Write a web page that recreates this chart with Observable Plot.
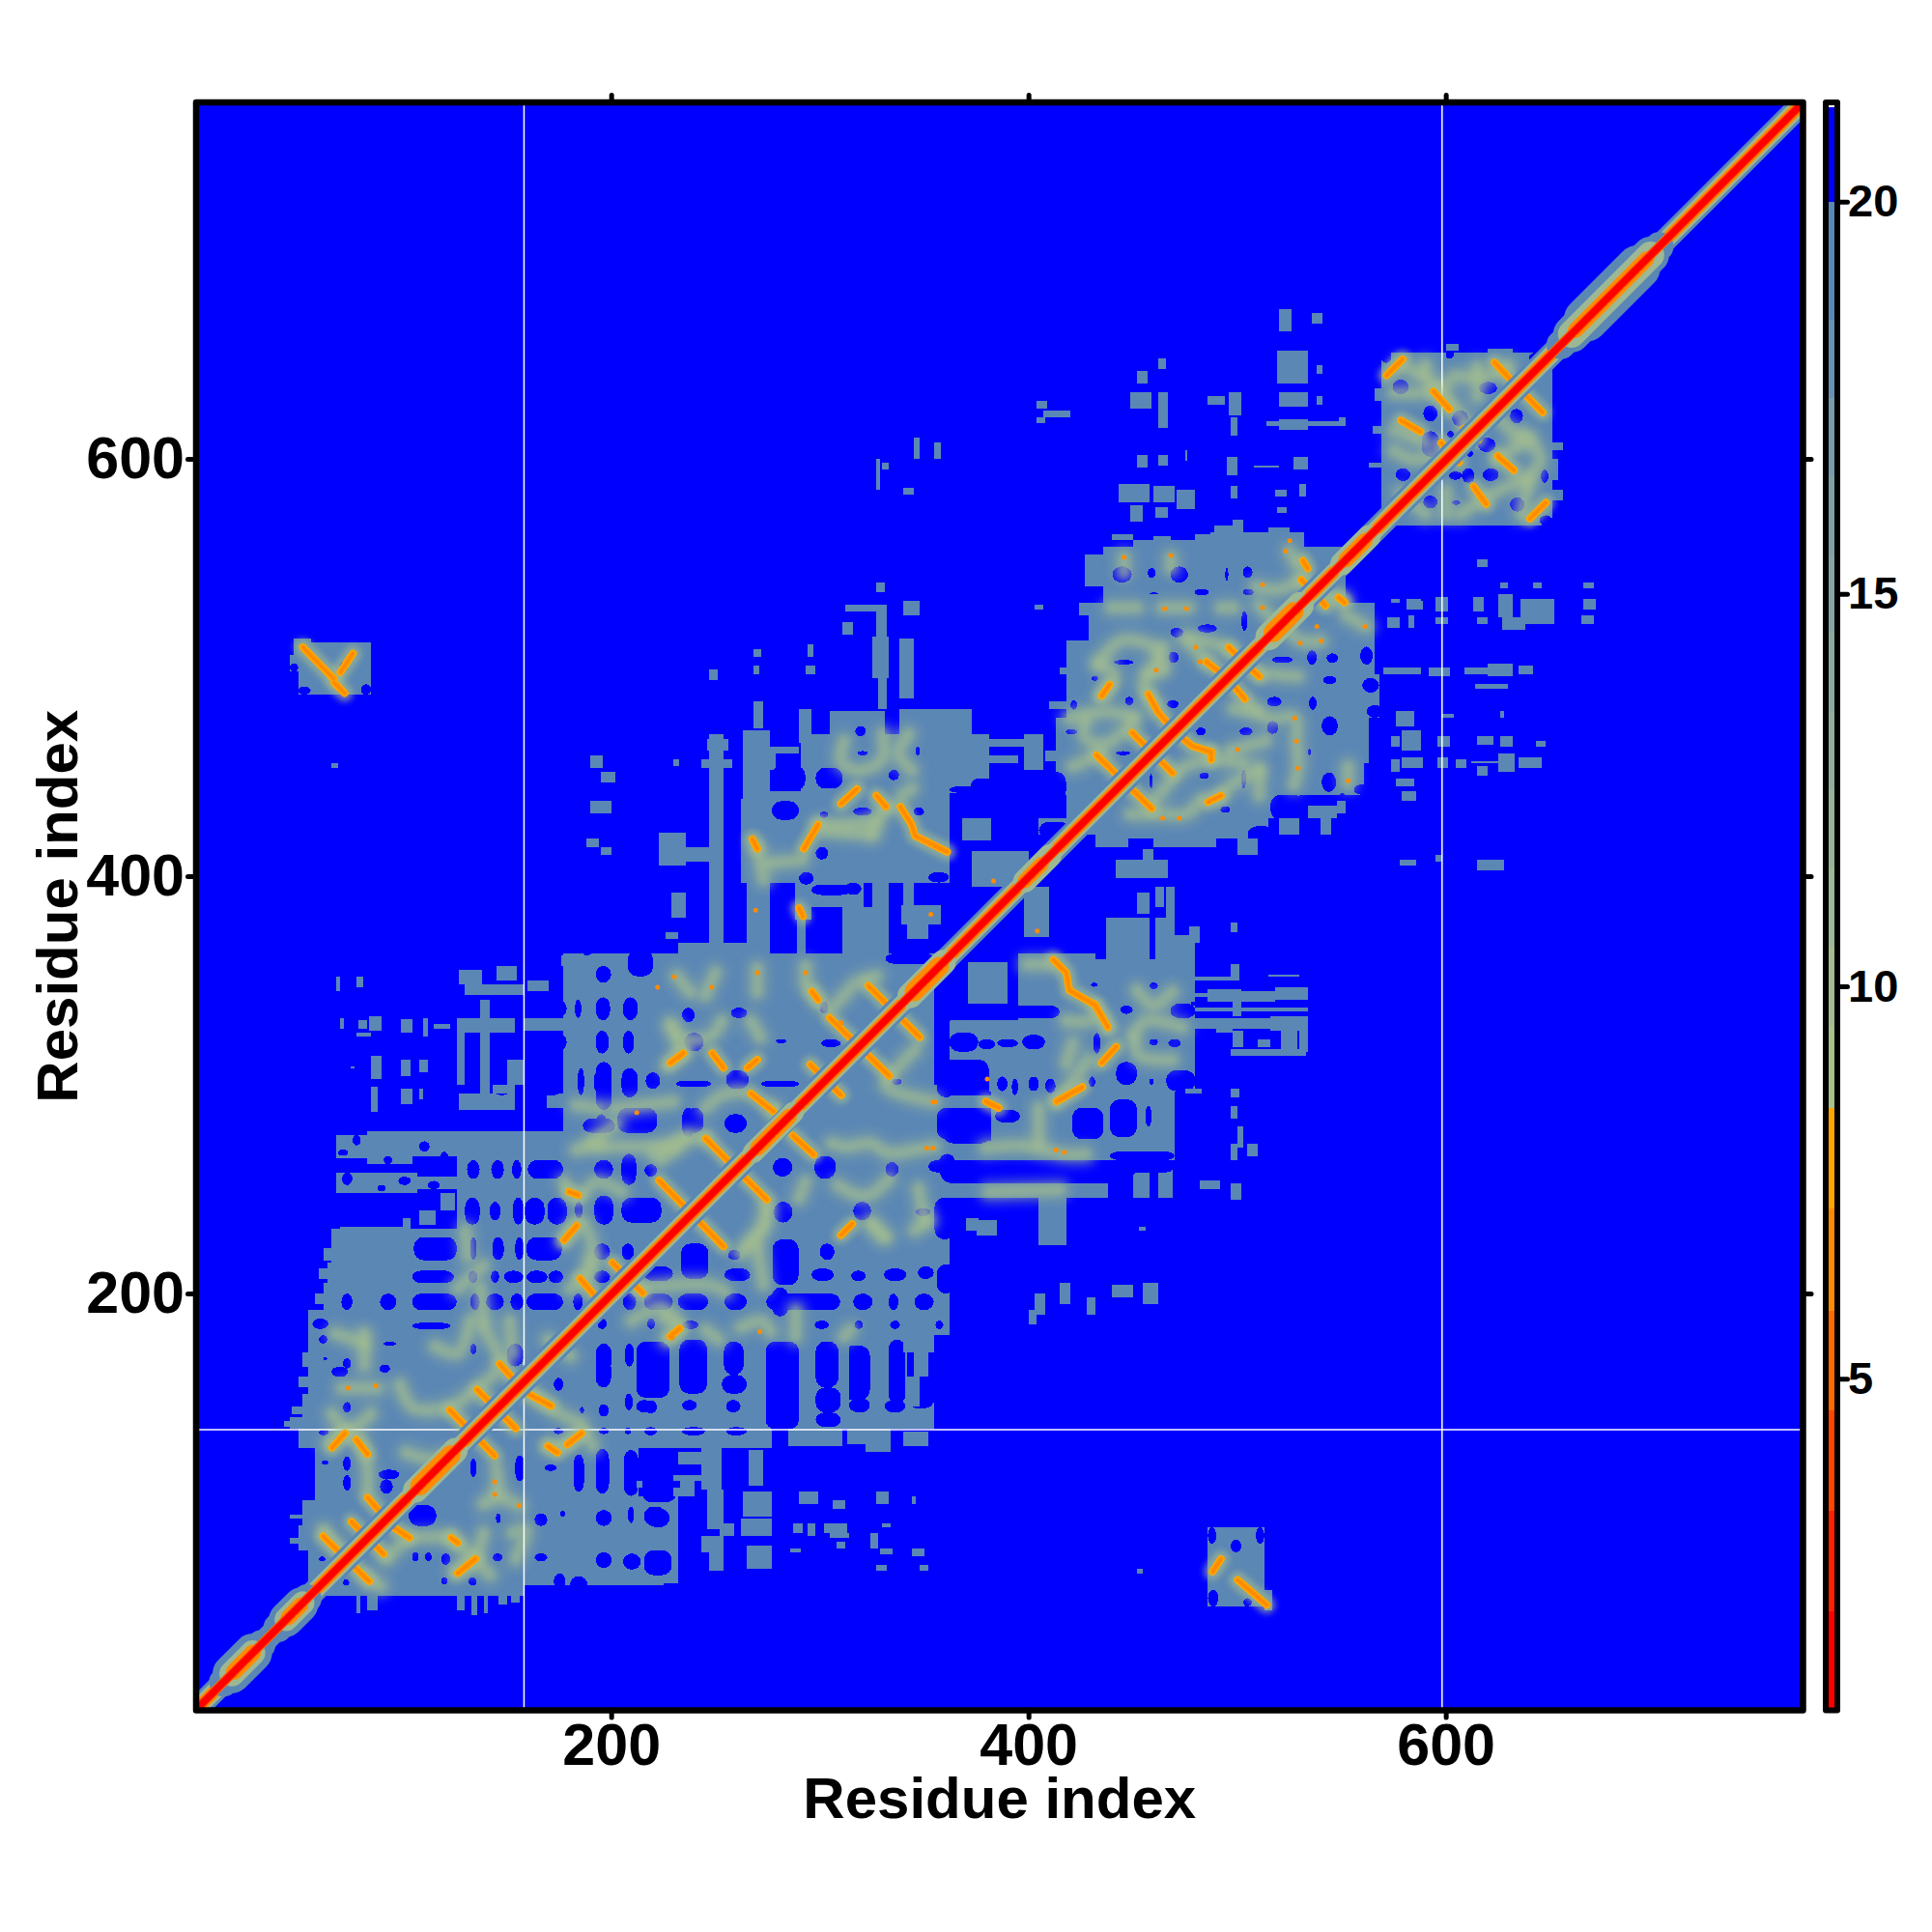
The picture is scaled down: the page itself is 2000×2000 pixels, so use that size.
<!DOCTYPE html>
<html>
<head>
<meta charset="utf-8">
<script src="https://cdn.jsdelivr.net/npm/d3@7"></script>
<script src="https://cdn.jsdelivr.net/npm/@observablehq/plot@0.6"></script>
<style>
html,body{margin:0;padding:0;background:#fff}
#wrap{position:relative;width:2000px;height:2000px}
#wrap svg{position:absolute;left:0;top:0;background:transparent}
</style>
</head>
<body>
<div id="wrap"></div>
<script>
// distance thresholds and colours
const thresholds=[2.04,3.32,4.6,5.87,7.17,8.45,9.5,10.5,11.5,12.5,13.5,14.5,15.5,16.5,17.5,18.5,20];
const colours=["#ff0000","#ff2000","#ff4500","#ff6a00","#ff8c00","#ffa500","#a8c08c","#a2bc90","#9cb894","#96b398","#90ae9b","#8aa99f","#84a4a3","#7ea0a6","#779baa","#6890b1","#5b87b5","#0000ff"];
const barTicks=[5,10,15,20];
const axisTicks=[200,400,600];
const missingX=[158,598];
const missingY=[135];
// regions with distance about 19 [x1,x2,y1,y2] in residues
const steelBlocks=[
[60,158,55,62],[158,225,60,62],[55,232,61,77],[50,232,77,89],[52,232,89,101],[58,213,101,127],[213,232,67,103],
[50,277,126,135],[46,355,135,141],[52,355,141,152],[55,355,152,180],[55,362,180,192],[62,362,192,205],[64,362,205,215],[66,362,215,231],
[126,362,231,278],[83,105,262,278],[68,83,265,276],[105,126,266,278],[68,107,248,258],[105,126,250,256],
[177,362,278,300],[127,154,288,296],[169,177,289,296],[177,355,300,363],[176,200,357,362],[232,272,362,368],
[247,253,363,380],[268,273,363,380],[289,293,363,380],[313,328,363,385],
[285,311,127,142],[313,333,128,142],[322,334,124,135],
[243,253,106,127],[246,254,87,106],[252,259,84,90],[243,254,76,84],[247,254,67,76],[266,273,108,125],[263,277,93,105],[262,277,84,92],[265,277,68,79],
[395,432,338,363],[432,478,338,360],[437,458,360,380],[461,470,360,380],[470,480,340,372],[371,390,339,359],
[395,480,310,338],[362,480,325,331],[381,395,308,325],[362,381,308,325],[381,480,297,310],[382,470,273,297],[351,470,264,273],[362,382,289,295],[362,382,264,273],
[351,438,246,253],[450,458,246,258],[462,469,246,260],[405,418,223,246],[460,470,264,280],
[480,486,342,344],[486,498,340,346],[498,502,333,346],[502,518,340,345],[518,534,341,347],[480,490,327,332],[490,498,325,332],[498,516,327,332],[516,534,326,333],[530,534,316,326],
[291,381,440,468],[291,362,397,440],[305,331,468,479],[338,373,468,480],[262,291,397,437],[276,291,437,441],
[247,254,363,468],[246,256,460,466],[243,258,452,456],[263,276,397,470],[270,290,459,462],[263,279,451,459],[265,276,357,397],
[288,296,379,403],[311,321,357,397],[325,333,357,412],[338,360,397,412],[339,358,377,386],[342,352,370,378],[296,311,385,397],[340,345,386,397],
[223,236,405,421],[236,250,407,414],[373,400,395,412],[398,410,371,395],
[327,331,536,541],[327,332,515,530],[325,333,495,515],[328,332,480,495],[338,345,485,514],[290,296,464,480],[268,273,471,484],
[487,532,558,565],[436,552,531,558],[450,532,558,561],[424,566,525,531],[429,566,513,525],[418,566,497,513],[418,568,476,497],[413,563,454,476],[413,561,439,454],[418,530,428,439],[447,515,418,428],[405,447,420,428],
[569,651,572,648],[574,646,568,651],[569,575,590,610],[650,654,590,600],
[50,85,487,512],[46,60,498,506],[48,56,506,514],[486,513,50,88],[513,517,48,58]
];
// holes with distance above 20
const blueGaps=[
[71.5,75.3,143,148],[60,64,168,169.5],[71.5,75.3,164,169],[89,94,162,166],[192.6,200,155,169],[60,64.5,132,135],[61.4,64.5,118,120],[71.5,75.3,115,122],[71.5,75.3,105.5,113],[88.4,98.5,111,115.6],[89.2,95.4,104,111],[103,116.2,88.6,98.6],[144.8,147,90,94.7],[163.3,169.4,88.6,94.7],[175.6,178,93,96],[192.6,200.3,88.6,96.3],[208,211,90,98],[215.7,226.5,88.6,97.9],
[104.6,107.7,71.6,76],[110.8,114,71.6,76],[118.5,123,70,75.5],[143.2,148,71.6,75.4],[163.3,169.4,71.6,75.4],[192.6,200.3,68.5,76],[205.7,214.2,67.7,75.4],[215.7,229,65,77],[60,63,71.6,74],[71.5,74.5,60,63],[118.5,121.6,60.7,64],[131.6,135.5,60,64],[180.2,188.7,56,64.6],[172.5,178,58,66],
[182,187,105,123],[192.6,199,104,125.6],[206,213,103,125],[154,158.6,110,122.5],[168,174,115,118],[132.4,135.5,111.8,121],[212.6,220.4,152,162.6],[194,198.8,141,147],[206.5,210.4,144,152],[215.7,222,142.6,148.8],[185,187,142.6,145.7],[172.5,177,153.4,159.6],[172.5,177,132.6,135.6],[194,198.8,132.6,135.6],[206.5,209.6,132.6,135.6],[217.3,222,132.6,135.6],
[212,228,150,177],[232.7,246,152,178],[254,263.5,161,177],[253,265,152,161],[274,290,135,177],[298,309,155,177],[298,310,143,155],[311,324,149,175],[333,341,147,178],[342,355,145,178],
[212,220,143,149],[234,241,144,149],[255,262,143,149],[298,310,136,143],[314,324,143,150],[331,341,143,149],[216,222,132,136],[234,245,132,136],[255,265,132,136],
[215.7,229.6,206,213],[233.5,246.6,207,224],[255.8,266.6,206,212],[277.4,289.8,204,226],[296,306.7,206,212],[315,322,206,211],[330.7,341.5,206,212],[347,354.6,207,213],
[215.7,229.6,192,200],[232,246.5,192,200],[254.3,265,192,200],[274.3,309.8,192,200],[277,285,189,203],[316,325.3,192,200],[333,337.6,192,200],[345.3,354.6,192,200],
[234,242,183,187],[297.5,304.4,183,187],[316.8,320.6,183,187],[333.7,338.4,183,187],[355.4,359.2,183,187],
[192.6,198,277,286],[203,222,277,289],[234,240,275,289],[186.4,201.9,277,284],
[130.9,137,255,264],[142.5,148.6,255,264],[152.5,157,255,264],[160,177,255,264],[191.8,201,255,264],[205,212,252,267],[216,222,256,262],[277.5,286.8,256,265],[297.5,307.6,255,266],[331.5,337.7,256,263],
[130,137,233,246],[141.7,147,235,244],[153,158,233,246],[158.7,168,233,246],[169.5,178.7,233,246],[182.6,186.4,236,244],[192,201,233,247],[205,224,234,246],[278,286.8,234,244],[316,324.6,235,244],[346,353,237,241],
[105.4,126,216,227],[132.4,135.5,216,227],[143,148.6,216,227],[154,158,216,227],[159.4,176.4,216,227],[191.8,199.5,216,224],[205,211,216,224],[256,262,216,221],[300,307,216,224],
[104.6,124.7,205,211],[131.6,136,205,211],[142.4,146.3,205,211],[148.6,158,205,211],[159.4,169.5,205,211],[170,177,205,211],[191.8,199.5,205,211],[254.3,266.7,206,212],
[70.7,76,192,200],[89.2,97,192,200],[104.6,126,192,200],[132.4,137,192,200],[140,148.6,192,200],[151.7,158,192,200],[159.4,177,192,200],[181.8,186.4,192,200],[205.7,212,192,200],[215.8,225,192,200],
[56.8,64.5,183,188],[104.6,123,183,186],[193.4,198,183,188],[217.3,221,183,188],[90.8,97,175,177],[132.4,135.5,171,176],[192.6,200.3,163,176],[206.5,211,165,176],[214,228,167,176],[232.7,240,165,176],[150,158,165,176],
[66,74,160,165],[60,64,176,180],
[142.5,152.5,295,308],[163,177,295,308],[184,187,295,308],[191.8,200.3,295,308],[205,212.7,295,308],[216.5,223.5,298,306],[192.6,200.3,288,311],
[130,137,316,325],[140,148.6,316,325],[161,178.7,316,325],[192.6,198.8,315,326],[205.7,211,315,326],[235,244.3,316,325],[279,284,320,322],[300.6,310,318,322],
[130,137,332,341],[141.7,148.6,332,341],[158.7,178.7,332,341],[182.6,185.7,332,341],[192.6,199.5,331,342],[205.7,212.7,331,342],[257.4,265.1,332,337],[300,304,334,340],[234,240,330,337],
[192.6,200,349,357],[208,220,352,365],[185,192,362,372],[331.5,355,358,363],[205,212.7,294,308],[216.5,223.5,298,306],[255,266,298,307],[334.6,339.2,300,303],[231,248,299,302],[272,290,299,302],
[205,222,277,289],[236,244.3,277,289],[254.3,265,277,286],
[355,365,330,365],[356,365,294,309],[356,365,274,289],[357,365,255,267],[355,365,226,246],[356,365,200,214],
[215,231,100,107],[217,228,88,97],
[358,381,295,312],[359,382,272,289],[384,396,282,288],[421,436,274,289],[439,452,275,293],[456,459,280,290],[358,383,253,264],[385,413,253,264],[420,436,254,264],[439,452,256,264],[439,470,264,268],[352,470,258,264],
[431,434.5,315,325],[444,450,334,338],[458,462,319,322],[467,473,318,322],[429,432,299,304],[442,452,300,311],[458,460,300,303],[430,433,347,349],[458,462,346,349],[468,480,332,339],[466,480,297,307],
[385,390,297,304],[392,395,295,303],[400,405,297,304],[408,413,296,303],[362,376,316,325],[376,384,317,322],[385,395,318,322],[397,408,317,324],[362,415,332,338],
[277,293,441,453],[298,311,442,452],[317,322,467,472],[318,323,458,460],[346,348,458,462],[333,338,446,451],[277,290,427,436],[300,304,428,431],[316,325,429,433],[345,350,429,433],[298,304,408,414],[296,315,391,396],[312,320,391,397],
[440.2,449.5,540.7,548.5],[468,476.5,540.7,548.5],[457.2,461,543,547.7],[494.3,495.8,541.5,547.7],[502.7,507.4,543,548.5],[479.6,486.5,534.6,537.7],[502.7,508,534.6,537.7],[458,462,535,536],[502,505,517.6,527],[481,490.4,516.8,520.7],[468,474.2,514.5,519],[441,450.3,501.4,503.7],[467.2,471.9,502.2,507.6],[516.6,526.7,502.2,505.3],[533.6,538.2,501.4,508.3],[542.9,548.3,502.2,506.8],[559,565,501.4,510],[430.2,433.3,493.7,496],[541.3,547.5,492,496],[446.4,450.3,482,486],[466.5,471.9,480.6,484.4],[514.3,521.3,481.3,486],[534.4,538.2,479.8,486],[540.5,548.3,467.4,476.7],[480.4,485,467.4,471.3],[501.2,507.4,467.4,471.3],[514.3,519.7,468.2,474.4],[420.2,423.3,479.8,484.4],[417.9,423.3,468,470.5],[534,535.5,458,461],[441.8,448.7,458,460],[482,486.5,446.6,449.7],[502,504.3,442,451],[458,459.5,442,449],[540.5,547.5,440.4,449.7],[492,496.6,430.4,433.5],
[574.5,582.2,631,638],[589.2,596,618,625.6],[603,610.8,615.6,623.3],[616,624.6,631,637],[630.8,637,617,624],[588.4,596.9,601,613.3],[600.7,603.8,610.2,613.3],[615.4,623.9,603.3,610.2],[610,613,601,604],[607.7,613.8,588.6,595.5],[601.5,607.7,590,594],[617.7,625.4,589.4,595.5],[576,583,589.4,595.5],[589.2,596,576.3,582.4],[630.8,637.8,574.7,581.6],[603,607,578,580],[645.5,649.3,588.6,594.8],
[70,74,498,503],[497,502,76,82],
[372,385,438,447],[362,372,395,405],[352,362,397,402],[290,297,396,402],[362,381,440,443],
[409,418,436,450],[405,420,418,426],[516,532,427,439],[505,518,416,424],[549,552,434,440],[560,568,488,495],[562,570,476,482],[556,564,439,444],
[69,74,266,269],[76,80,271,276],[91,95,262,266],[108,113,268,273],[118,122,262,268],[88,92,249,252],[71,76,252,258],[98,104,252,256],[112,118,250,254],
[569,574,568,574],[645,651,568,573],[569,574,646,651],[600,604,648,652],[640,646,646,651],[562,566,552,558],
[46,50,498,502],[80,85,487,492],[50,56,487,491],[486,490,80,88],[509,513,80,88],[486,491,50,58],[503,507,50,54]
];
// scattered small patches of distance about 19
const speckles=[
[99,105,325,331.5],[110,112,323,332],[115,123,327,329],[84,90,326,333],[70,72,327,332],[79,83,327,331],[78,85,323,325],[85,90,303,314],[99,104,304,312],[108,112,306,312],[75,77,308,309],[85,88,287,299],[99,105,291,298],[108,110,293,298],[68,70,345,352],[78,81,347,352],
[70,100,230,232],[100,104,231,236],[108,116,233,240],[118,125,240,248],[126,154,325,332],[130,158,343,348],[127,138,348,355],[145,155,350,357],[126,130,300,325],[137,142,296,341],[150,158,300,312],[143,154,296,300],[158,177,326,332],[160,170,345,350],
[212,215,107,110],[230,240,103,107],[233,240,106,110],[232,245,118,124],[230,243,110,113],[290,299,99,105],[306,312,97,101],[327,333,99,105],[344,346,99,103],[287,292,85,90],[294,298,84,90],[302,313,85,90],[305,314,83,85],[324,328,78,85],[330,334,88,90],[329,335,75,78],[327,332,67,70],[344,350,74,78],[348,352,67,70],[308,312,78,81],[286,291,76,78],
[340,352,127,134],[345,355,135,143],[342,348,146,160],[345,352,160,175],[340,355,172,178],[290,297,156,162],[290,298,165,172],[310,314,147,177],[325,331,143,178],[285,290,130,135],[370,376,230,236],[375,385,228,235],
[403,408,190,200],[415,420,195,205],[428,432,190,198],[440,450,198,204],[455,462,195,205],[400,404,185,192],[452,455,66,68],[453,456,230,232],
[452,458,382,392],[461,465,385,395],[466,470,380,395],[477,482,368,376],[497,500,373,378],[497,501,294,298],[475,483,296,298],[497,500,284,290],[500,503,270,280],[497,500,264,272],[505,510,266,272],[497,502,245,253],[482,492,250,254],[480,500,350,352],[497,501,350,358],[515,530,352,353],
[497,533,314,317],[498,503,318,326],[510,516,318,322],[521,529,317,326],[480,534,335,337],
[190,196,452,458],[195,202,445,450],[190,200,430,436],[188,194,414,418],[195,200,410,414],[229.7,232.7,453,456],[327,329,585,600],[330,333,595,598],[345,348,600,610],[355,358,600,608],[340,345,583,586],[66,69,452,454],
[312,327,527,530],[311,316,516,522],[340,348,525,532],[247,251,494,499],[268,271,497,501],[268,272,505,509],[293,298,497,501],[294,297,505,511],[229,236,380,392],[226,232,370,373],[368,382,417,428],[381,400,462,466],[380,395,454,458],
[519,534,636,652],[452,457,636,642],[449,459,624,632],[462,467,615,632],[496,502,621,632],[497,500,611,620],[520,534,625,632],[520,534,614,619],[520,526,661,672],[536,541,665,670],[462,466,643,648],[452,457,596,602],[462,467,597,602],[495,500,592,601],[527,534,595,601],[508,520,596,597],[475,476,599,604],[443,458,579,588],[460,470,579,587],[471,480,576,585],[449,455,570,578],[461,467,572,577],[518,524,582,585],[519,524,574,577],[530,533,582,588],[497,500,581,587],[404,409,624,628],[404,408,617,620],[407,420,620,623],[486,494,626,630],[538,541,626,630],[538,541,641,645],[549,552,616,620],[514,550,616,618],[489,501,561,568],[480,488,560,564],
[595,601,527,534],[613,618,527,534],[625,632,524,535],[636,652,521,533],[615,620,521,524],[595,601,521,524],[665,671,521,525],[627,638,518,524],[574,578,531,533],[574,578,519,523],[582,589,528,532],[582,585,519,525],[615,620,548,552],[626,630,538,541],[642,646,538,541],[666,671,538,541],[666,672,528,533],[592,602,496,500],[609,620,497,500],[620,632,496,502],[635,642,497,501],[577,588,499,500],[614,630,490,492],[576,585,472,479],[598,604,476,478],[626,628,476,479],[574,578,462,467],[579,588,460,470],[596,602,462,467],[615,623,463,467],[626,632,462,467],[643,648,462,465],[574,578,450,456],[579,589,452,457],[596,601,452,457],[605,610,452,456],[615,620,448,453],[625,633,450,459],[635,646,452,457],[612,625,454,455],[576,585,443,447],[579,586,436,441],[572,578,519,524],[581,588,528,533],[578,586,405,408],[615,628,403,408],[595,598,407,410],
[398,407,451,468],[427,436,539,554],[403,407,528,530],[442,467,399,408],[534,548,428,434],[548,552,430,436],[570,588,497,500],[455,460,408,413],
[78,80,47,55],[83,88,48,55],[126,130,48,55],[133,136,46,55],[139,141,47,55],[146,150,51,55],[152,156,52,55],[225,230,62,65],[46,52,92,94],[46,50,80,83],[47,52,142,146],[43,50,136,139],[50,55,155,160],[52,55,165,172],[58,62,195,200],[60,64,207,212],[62,66,216,222],[60,62,165,170],
[600,606,652,655],[620,632,650,653],[650,656,604,608],[651,656,580,585],[565,570,612,616],[566,570,628,634],[563,570,596,598],
[440,450,561,564],[460,468,561,563],[498,503,565,571],[515,525,563,567],[415,425,497,500],[410,418,480,484],[408,415,455,460],[432,448,414,420],[460,490,414,418],[500,510,410,418],[520,530,420,428],[540,545,420,428]
];
// lighter ridges (distance about 10 to 12), each a polyline of [x,y] in residues
const ridgeLines=[
[[66,142.6],[73.8,134.9],[84.6,142.6]],[[70.7,154.9],[87.7,154.9]],[[98.5,156.5],[104.6,145.7],[121.6,145.7],[134,153.4],[143.2,161.1]],[[101.5,124],[112.3,121],[121.6,122.5]],[[64.5,128.7],[73.8,134.9]],[[80,128.7],[83,116.3],[83,107]],[[144.7,116.3],[144.7,104],[138.6,99.4]],[[144.7,104],[155.6,98.6]],[[169.5,127.1],[178.7,128],[186.4,133.3],[191,127.1]],[[160.2,153.4],[172.5,144.1],[185,138]],[[62,87],[72.2,74.7]],[[92.3,73.1],[103.1,82.4],[121.6,83.2]],[[123.1,83.2],[134,73.1],[141.7,65.4]],[[124.7,67],[134,73.1],[138.6,85.5]],[[152.5,85.5],[158.6,87],[154,73.1]],[[81.5,65.4],[89.2,60]],
[[229.6,327.7],[232.7,318.4]],[[226.6,309.2],[234.3,315.3]],[[183,290.6],[194.1,289]],[[201.9,289],[229.6,292.2]],[[183,269],[194.1,272.1]],[[194.1,270.6],[231.2,270.6]],[[223.5,264.4],[235.8,275.2]],[[177.2,253.6],[183.3,245.9],[192.6,253.6],[205,249]],[[177.2,225.8],[184.9,235.1],[189.5,227.4],[191,213.5],[180.3,202.7]],[[126.2,202.7],[138.6,213.5]],[[137,202.7],[138.6,187.2]],[[130,230.5],[131,218.1]],[[209.6,187.2],[223.5,193.4],[231.2,187.2]],[[67.6,181],[81.5,176.4]],[[81.5,181],[81.5,166]],[[115.4,174.9],[126.2,171.8],[132.4,187.2]],[[138.6,184.2],[147.9,167.2]],[[151,187.2],[152.5,171.8]],[[169.5,178],[180.3,170.3]],
[[231.2,352.4],[237.4,344.7]],[[249.7,354],[245,343.2]],[[269.8,356],[269.8,344.7]],[[293,357],[293,349.3]],[[296,344.7],[303.7,337],[317.6,349.3],[327,352.4]],[[228,329.3],[232.7,323.1],[246.6,323.1],[252.8,330.8]],[[266.7,330.8],[271.3,323.1]],[[245,289.2],[252.8,295.3],[262,296.9]],[[220.4,267.6],[232.7,273.7],[245.1,275.3]],[[277.5,289.2],[280.6,281.4]],[[305.3,272.2],[313,270.6],[323.8,272.2],[333,267.6],[345.4,269.1],[354.6,270.6]],[[292.9,253.7],[289.8,245.9]],[[308.4,252.1],[317.6,247.5],[323.8,247.5],[333,255.2]],[[347,250.6],[350,235.1]],[[262,219.7],[272.9,233.6],[274.4,241.3]],[[323.8,233.6],[331.5,227.4]],[[345.4,317],[339.2,310.8],[331.5,300],[354.6,292.2]],[[189.5,272.2],[201.9,281.4]],[[188,209],[189.5,216.6]],
[[265,222.9],[272.8,232.1],[274.3,241.4]],[[269.7,222.9],[272.8,204.4]],[[325.3,233.7],[329.9,227.5]],[[345.3,230.6],[351.5,235.2]],[[212.6,202.8],[246.5,204.4],[254.3,201.3]],[[245,182.8],[251.2,178.1]],[[288.2,192],[288.2,179.7]],[[311.4,179.7],[314.5,182.8]],[[225,188.9],[232.7,182.8],[226.5,178.1]],[[262,184],[272,187],[276,182]],
[[399.3,358],[411.7,358]],[[417.9,330.9],[428.7,330.9],[433.3,334],[437.9,327.8]],[[451.8,345.5],[459.5,338.6],[468.8,344.8]],[[450.3,324.7],[456.4,330.9],[473.4,327.8]],[[450.3,321.6],[453.4,313.9],[468.8,312.3]],[[428.7,312.3],[419.4,300],[413.2,292.3]],[[417.9,310.8],[421,320]],[[404.7,289.2],[404.7,272.2]],[[379.3,270],[397.8,271],[417.9,267],[427.1,267]],[[380.8,249],[414.8,250]],
[[311.4,465],[309.9,455.9],[316,451.2],[325.3,452.8],[330,457.4],[330,468.2]],[[342.3,468.2],[337.7,459],[343.8,451.2]],[[331.5,432.7],[326.9,426.5],[325.3,420.4]],[[339.2,438.9],[343.8,442]],[[299,425],[311.4,425],[326.9,426.5]],[[303.7,421.9],[323.8,420.4]],[[275.9,406.5],[291.4,408]],[[269.8,414.2],[272.8,398.8]],
[[439.5,529],[451.8,529]],[[464,529],[476.5,529]],[[492,529],[498,529]],[[433.3,502],[441,496],[434.8,486.7]],[[433.3,502],[444,513],[459.5,510],[464,502]],[[456.4,497.5],[464.2,499]],[[464,510],[459.5,499],[455,491.4],[461,482]],[[476.5,513],[484.2,503.7]],[[475,514.5],[490.4,511.4],[496.6,508.3]],[[427,474.4],[427,466.7],[434.8,463.6],[444,468.2],[450.3,476]],[[419.4,476],[438,479],[450.3,476]],[[421,452.8],[434.8,459]],[[448.7,430],[464,430],[475,430],[482.7,437]],[[459.5,435.8],[467.2,445],[475,452.8],[490.4,455.9],[502.7,454.3]],[[490.4,437.4],[496.6,443.5],[510.4,451.2]],[[510.4,451.2],[510.4,438.9]],[[496.6,460.5],[513.5,465.2]],[[505.8,482],[515,476],[527.4,476],[528.2,465],[529,452.8],[527,444]],[[498,480.6],[508.9,479]],[[510.4,497.5],[529,496]],[[552.9,452.8],[552.9,445]],[[525,556],[528,550]],[[509,539],[519.7,537.7],[530.5,542.3]],[[510.4,530],[518.2,522.2]],[[524.3,517.6],[530.5,513],[539.8,513]],[[552.1,525.3],[561.4,519.9]],[[538.2,536],[550.6,533]],[[445.6,553],[445.6,546]],[[468,553],[468,548]],
[[575,632],[590,632],[600,636]],[[578,645],[590,640]],[[590,645],[590,640],[600,630],[612,615]],[[575,614],[590,608]],[[604,640],[620,640],[630,645]],[[637,612],[645,600],[638,590]],[[575,604],[584,600],[600,603]],[[578,584],[590,574]],[[607,574],[625,585],[636,590]],[[624,600],[640,610]],[[600,574],[600,585]],[[636,574],[640,590]],[[625,620],[635,610]],[[615,644],[615,630]]
];
// orange strands (distance 6 to 8), each a polyline of [x,y] in residues
const contactLines=[
[[61.7,83.9],[83.8,62.3]],[[75.3,90.9],[90.7,75.4]],[[83,102.5],[88.4,96.3]],[[96.1,87.8],[103.1,83.2]],[[122.4,144.4],[143.9,122.5]],[[135.5,154.2],[154,135.6]],[[146.3,166.5],[154,158]],[[159.4,152.6],[171,146.4]],[[66,126.4],[72.2,133.3]],[[77.6,130.2],[83,123.3]],[[126.2,66.2],[134.7,73.1]],[[123.1,83.2],[126.2,80.8]],[[178.7,127.9],[185.6,133.3]],[[174,124],[169.5,127.1]],
[[184.9,207.4],[194.2,196.6]],[[200.3,215.1],[215,200.4]],[[222.7,254.4],[253.6,222.8]],[[245.1,274.5],[274.4,245.2]],[[266.7,296.1],[277.5,287.6]],[[286.8,276],[296.8,266.8]],[[295.2,310],[310,295.3]],[[304.5,332.4],[333,304.6]],[[323,347.8],[347.7,323.1]],[[228.1,310.8],[234.3,315.4]],[[248.2,315.4],[253.6,308.4]],[[265.1,308.4],[269.8,312.3]],[[309.9,228.2],[315.3,233.6]],[[296,345],[299,341]],[[228,179.7],[232.7,183.5]],[[179.5,249],[184,247.4]],[[177.2,225.8],[183.3,232.8]],
[[411.7,360.2],[417.9,354],[419.4,345.5],[431.7,338.6]],[[431.7,338.6],[437.9,327.8]],[[441.8,318.5],[434.8,310.8]],[[425.6,299.2],[413.2,292.3]],[[379.3,292.3],[385.5,289.2]],
[[292.1,413.4],[299,425]],[[309.9,435],[317.6,442]],[[326.9,438.9],[331.5,433.5]],[[338.4,433.5],[343.8,425],[345.4,419.6],[360.8,411.9]],[[267.4,418],[269.8,413.4]],[[289.8,384.9],[291.7,381]],
[[432.5,458.2],[458.8,432.7]],[[449.5,469],[468.8,449.7]],[[457.2,487.5],[461.8,479],[469.6,469.8],[478,462.8],[487.3,459.7]],[[487.3,456],[487.3,460]],[[485,503],[495,495.2],[503.5,485.2]],[[495.8,509.9],[502.7,503],[510.4,496]],[[434.8,486.7],[438.7,492.1]],[[485.8,435.8],[492,438.9]],[[530.5,542.3],[536.7,536.1],[542.1,529.9]],[[531.3,551.5],[533.6,547.7]],[[548.3,533.8],[551.3,531.5]],
[[571.4,640.3],[579.1,648]],[[593.8,632.6],[601.5,624.1]],[[578.3,618.7],[587.6,613.3]],[[623.1,646.5],[634,634.9],[646.2,622.5]],[[597.6,607.9],[606.1,598.6]],[[608.4,614.8],[615.4,609.4]],[[624.6,601.7],[632.4,594.8]],[[613.1,587],[619.2,578.6]],[[640.1,571.6],[647.8,579.3]],
[[52,510],[66.7,495]],[[67,493],[72,488]],[[70,498],[76,507]],[[488,67],[492,73]],[[500,63],[514,51]]
];
// isolated orange points [x,y]
const contactDots=[[73.7,155],[87,156],[144,110],[144,104],[155.6,98.6],[310,330],[222,347],[248,347],[269.8,354],[293,354],[212,287],[355,292],[351,270],[380,303],[383,398],[404,374],[413,269],[417,268],[354,270],[354,292],[382,381],[353,382],[269,384],[445.6,553],[468,554],[465,528.5],[475.5,528.5],[461,499],[527.4,476],[528.2,465],[529,452],[553,446],[512,529],[512,540],[538,520],[561,520],[530,512],[540,513],[500,461],[464,428],[472,428],[480,510],[482,503],[229,179],[271,182],[525,561],[523,556],[230,352]];
// stretches of the main diagonal with a thicker halo: from, to, value, width in px
const diagonalBands=[
[14,32,19,30],[18,28,19,40],[40,54,19,30],[44,51,19,36],[655,702,19,30],[660,698,19,38],[667,692,19,46],
[18,28,11,26],[44,52,11,24],[106,125,11,26],[268,287,11,22],[343,359,11,26],[398,410,11,24],[515,530,11,28],[550,563,11,24],[660,698,11,28],
[19,28,7,17],[45,51,7,16],[108,123,7,20],[270,285,7,16],[345,357,7,20],[398,406,7,15],[517,527,7,20],[552,561,7,16],[662,696,7,16]
];
// the main diagonal layers: value, width in px
const diagonalLayers=[[19,24],[11,18],[7,13],[5,10],[3,8],[1.5,6.5]];
const diagonalEnds=[1,771];

const crisp={shapeRendering:"crispEdges"};
const rectOf=(v,extra={})=>({x1:d=>d[0],x2:d=>d[1],y1:d=>d[2],y2:d=>d[3],fill:()=>v,clip:true,...crisp,...extra});
const toTable=lines=>lines.flatMap((pts,i)=>pts.map(p=>({x:p[0],y:p[1],id:i})));
const colorScale={type:"threshold",domain:thresholds,range:colours};
const font={fontFamily:"Liberation Sans, Arial, sans-serif",fontWeight:"bold"};
const ridgeTable=toTable(ridgeLines);
const contactTable=toTable(contactLines);

const main=Plot.plot({
  width:2000,height:2000,
  marginLeft:202.5,marginRight:134,marginTop:105.5,marginBottom:230,
  x:{domain:[0.84,771],axis:null},
  y:{domain:[0.5,771.1],axis:null},
  color:colorScale,
  style:{background:"transparent",...font},
  marks:[
    Plot.frame({fill:"#0000ff",stroke:"none"}),
    Plot.rect(steelBlocks,rectOf(19)),
    Plot.rect(blueGaps,rectOf(25,{rx:10})),
    Plot.rect(speckles,rectOf(19)),
    Plot.line(ridgeTable,{x:"x",y:"y",z:"id",stroke:()=>13,strokeWidth:26,strokeOpacity:.4,strokeLinecap:"round",curve:"catmull-rom",clip:true,imageFilter:"blur(5px)"}),
    Plot.line(ridgeTable,{x:"x",y:"y",z:"id",stroke:()=>10,strokeWidth:12,strokeOpacity:.6,strokeLinecap:"round",curve:"catmull-rom",clip:true,imageFilter:"blur(3px)"}),
    Plot.ruleX(missingX,{stroke:"#ffffff",strokeWidth:1.5,clip:true}),
    Plot.ruleY(missingY,{stroke:"#ffffff",strokeWidth:1.5,clip:true}),
    Plot.line(contactTable,{x:"x",y:"y",z:"id",stroke:()=>10,strokeWidth:18,strokeOpacity:.65,strokeLinecap:"round",clip:true,imageFilter:"blur(3px)"}),
    Plot.line(contactTable,{x:"x",y:"y",z:"id",stroke:()=>8,strokeWidth:8,strokeLinecap:"round",clip:true}),
    Plot.line(contactTable,{x:"x",y:"y",z:"id",stroke:()=>6.5,strokeWidth:4,strokeLinecap:"round",clip:true}),
    Plot.dot(contactDots,{x:d=>d[0],y:d=>d[1],r:2.5,fill:()=>6.5,clip:true}),
    ...diagonalLayers.slice(0,3).map(([v,w])=>Plot.line(diagonalEnds,{x:d=>d,y:d=>d,stroke:()=>v,strokeWidth:w,clip:true})),
    ...diagonalBands.map(([a,b,v,w])=>Plot.line([a,b],{x:d=>d,y:d=>d,stroke:()=>v,strokeWidth:w,clip:true})),
    ...diagonalLayers.slice(3).map(([v,w])=>Plot.line(diagonalEnds,{x:d=>d,y:d=>d,stroke:()=>v,strokeWidth:w,clip:true})),
    Plot.axisX({anchor:"bottom",ticks:axisTicks,tickSize:8,strokeWidth:5,strokeLinecap:"round",tickPadding:5,fontSize:61,label:null}),
    Plot.axisX({anchor:"top",ticks:axisTicks,tickSize:8,strokeWidth:5,strokeLinecap:"round",tickFormat:()=>"",label:null}),
    Plot.axisY({anchor:"left",ticks:axisTicks,tickSize:8,strokeWidth:5,strokeLinecap:"round",tickPadding:4,fontSize:61,label:null}),
    Plot.axisY({anchor:"right",ticks:axisTicks,tickSize:8,strokeWidth:5,strokeLinecap:"round",tickFormat:()=>"",label:null}),
    Plot.frame({stroke:"#000",strokeWidth:6.5,strokeLinejoin:"round"}),
    Plot.text(["Residue index"],{frameAnchor:"bottom",dy:92,fontSize:60,lineAnchor:"middle",textAnchor:"middle"}),
    Plot.text(["Residue index"],{frameAnchor:"left",dx:-142.5,fontSize:60,rotate:-90,textAnchor:"middle",lineAnchor:"middle"})
  ]
});

const barEdges=[0.8,...thresholds,21.2];
const barBands=barEdges.slice(1).map((hi,i)=>({lo:barEdges[i],hi,v:(barEdges[i]+hi)/2}));
const bar=Plot.plot({
  width:2000,height:2000,
  marginLeft:1889.5,marginRight:98.5,marginTop:105.5,marginBottom:230,
  x:{axis:null},
  y:{domain:[0.78,21.27],axis:null},
  color:colorScale,
  style:{background:"transparent",...font},
  marks:[
    Plot.rect(barBands,{y1:"lo",y2:"hi",fill:"v",...crisp}),
    Plot.axisY({anchor:"right",ticks:barTicks,tickSize:10,strokeWidth:5,strokeLinecap:"round",tickPadding:1,fontSize:47,label:null}),
    Plot.frame({stroke:"#000",strokeWidth:6,strokeLinejoin:"round"})
  ]
});
const wrap=document.getElementById("wrap");
wrap.appendChild(main);
wrap.appendChild(bar);
</script>
</body>
</html>
